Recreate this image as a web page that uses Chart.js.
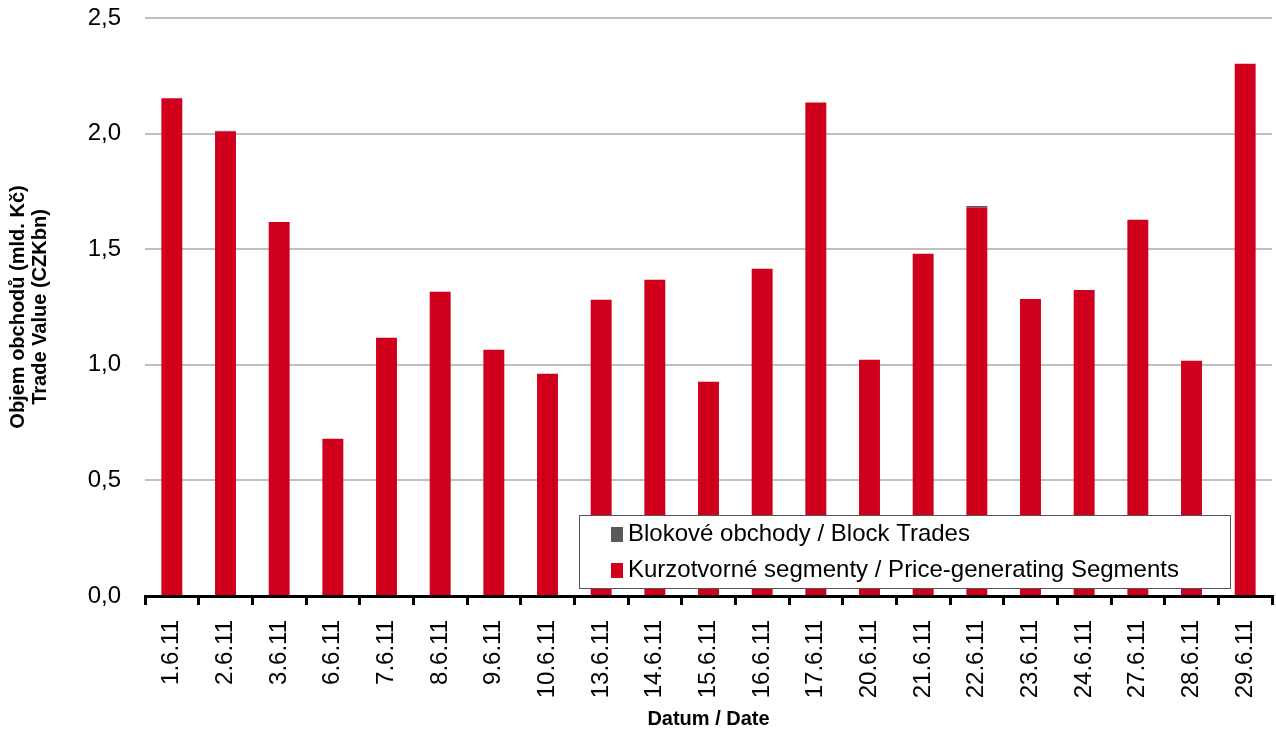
<!DOCTYPE html>
<html>
<head>
<meta charset="utf-8">
<script src="https://cdn.jsdelivr.net/npm/chart.js@4/dist/chart.umd.min.js"></script>
<style>
  body { margin: 0; background: #fff; }
  #wrap { position: relative; width: 1276px; height: 732px; }
</style>
</head>
<body>
<div id="wrap"><canvas id="myChart" width="1276" height="732"></canvas></div>
<script>
var dates = ["1.6.11", "2.6.11", "3.6.11", "6.6.11", "7.6.11", "8.6.11", "9.6.11", "10.6.11",
  "13.6.11", "14.6.11", "15.6.11", "16.6.11", "17.6.11", "20.6.11", "21.6.11", "22.6.11",
  "23.6.11", "24.6.11", "27.6.11", "28.6.11", "29.6.11"];
// kurzotvorne segmenty (mld. Kc)
var priceSegments = [2.153, 2.009, 1.618, 0.680, 1.117, 1.316, 1.065, 0.961,
  1.281, 1.368, 0.927, 1.415, 2.134, 1.022, 1.480, 1.680,
  1.285, 1.324, 1.627, 1.018, 2.302];
// blokove obchody
var blockTrades = [0, 0.003, 0, 0, 0, 0, 0, 0,
  0, 0, 0, 0, 0, 0, 0, 0.007,
  0, 0, 0, 0, 0];
var yTicks = [0, 0.5, 1.0, 1.5, 2.0, 2.5];

var RED = '#D0001C';
var GREY = '#595959';
var FONT = 'Arial, "Liberation Sans", sans-serif';

// legend drawn inside the plot like the original
var boxLegend = {
  id: 'boxLegend',
  afterDraw: function(chart) {
    var ctx = chart.ctx;
    var ds = chart.data.datasets;
    var x = 579, y = 515, w = 651, h = 73;
    ctx.save();
    ctx.fillStyle = '#fff';
    ctx.fillRect(x, y, w, h);
    ctx.strokeStyle = '#555';
    ctx.lineWidth = 1;
    ctx.strokeRect(x + 0.5, y + 0.5, w, h);
    ctx.font = '24px ' + FONT;
    ctx.textBaseline = 'middle';
    for (var i = ds.length - 1, row = 0; i >= 0; i--, row++) {
      var cy = y + 19 + row * 36;
      ctx.fillStyle = ds[i].backgroundColor;
      ctx.fillRect(x + 32, cy - 7, 12, 15);
      ctx.fillStyle = '#000';
      ctx.fillText(ds[i].label, x + 49, cy);
    }
    ctx.restore();
  }
};

var ctx = document.getElementById('myChart').getContext('2d');
var myChart = new Chart(ctx, {
  type: 'bar',
  data: {
    labels: dates,
    datasets: [{
      label: 'Kurzotvorné segmenty / Price-generating Segments',
      data: priceSegments,
      backgroundColor: RED,
      categoryPercentage: 1,
      barPercentage: 0.39
    }, {
      label: 'Blokové obchody / Block Trades',
      data: blockTrades,
      backgroundColor: GREY,
      categoryPercentage: 1,
      barPercentage: 0.39
    }]
  },
  options: {
    responsive: false,
    animation: false,
    layout: { padding: { top: 18, right: 4, left: 0, bottom: 0 } },
    plugins: {
      legend: { display: false },
      tooltip: { enabled: false }
    },
    scales: {
      x: {
        stacked: true,
        afterFit: function(scale) {
          scale.height = 136;
          scale.paddingLeft = 0;
          scale.paddingRight = 0;
        },
        grid: {
          drawOnChartArea: false,
          offset: true,
          color: '#000',
          lineWidth: 3,
          tickLength: 9
        },
        border: { color: '#000', width: 3 },
        ticks: {
          minRotation: 90,
          maxRotation: 90,
          autoSkip: false,
          padding: 15,
          color: '#000',
          font: { family: FONT, size: 24 }
        },
        title: {
          display: true,
          text: 'Datum / Date',
          color: '#000',
          padding: { top: 0, bottom: 1 },
          font: { family: FONT, size: 20, weight: 'bold' }
        }
      },
      y: {
        stacked: true,
        min: 0,
        max: 2.5,
        afterFit: function(scale) {
          scale.width = 145;
          scale.paddingTop = 0;
          scale.paddingBottom = 0;
        },
        afterBuildTicks: function(scale) {
          scale.ticks = yTicks.map(function(v) { return { value: v }; });
        },
        grid: {
          color: '#C0C0C0',
          lineWidth: 2,
          drawTicks: false
        },
        border: { display: false },
        ticks: {
          padding: 24,
          color: '#000',
          font: { family: FONT, size: 24 },
          callback: function(v) { return v.toFixed(1).replace('.', ','); }
        },
        title: {
          display: true,
          text: ['Objem obchodů (mld. Kč)', 'Trade Value (CZKbn)'],
          color: '#000',
          padding: 7,
          font: { family: FONT, size: 20, weight: 'bold', lineHeight: 1.1 }
        }
      }
    }
  },
  plugins: [boxLegend]
});
</script>
</body>
</html>
